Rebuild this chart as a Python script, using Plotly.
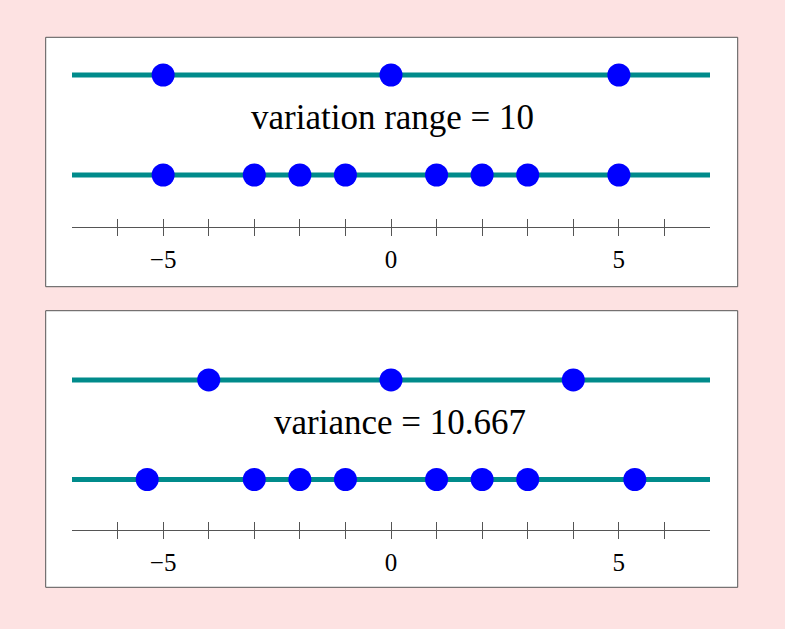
import plotly.graph_objects as go

# values of the two data sets in each panel
range_top = [-5, 0, 5]
range_bottom = [-5, -3, -2, -1, 1, 2, 3, 5]
var_top = [-4, 0, 4]
var_bottom = [-5.35, -3, -2, -1, 1, 2, 3, 5.35]

line_ends = [-7, 7]
tick_vals = list(range(-6, 7))
tick_text = ["", "\u22125", "", "", "", "", "0", "", "", "", "", "5", ""]
labels = ["variation range = 10", "variance = 10.667"]

W, H = 785, 629
BG = "#fde2e2"
TEAL = "#008b8b"
DOT = "#0000ff"
GREY = "#555555"
SERIF = "Liberation Serif, Times New Roman, serif"


def px_y(p):
    return 1 - p / H


fig = go.Figure()

panels = [
    # (top row, bottom row, y-axis domain in px, box in px, label x, y min)
    (range_top, range_bottom, (227.3, 50), (37.3, 286.7), 0.03, 0.477),
    (var_top, var_bottom, (530, 355), (310.7, 587.3), 0.2, 0.493),
]

for i, (top, bottom, dom, box, lab_x, ymin) in enumerate(panels):
    n = i + 1
    xa = "x" if n == 1 else "x2"
    ya = "y" if n == 1 else "y2"
    for yv, vals in ((2, top), (1, bottom)):
        fig.add_trace(go.Scatter(x=line_ends, y=[yv, yv], mode="lines",
                                 line=dict(color=TEAL, width=5),
                                 xaxis=xa, yaxis=ya, hoverinfo="skip"))
        fig.add_trace(go.Scatter(x=vals, y=[yv] * len(vals), mode="markers",
                                 marker=dict(color=DOT, size=23, line=dict(width=0)),
                                 xaxis=xa, yaxis=ya))
    # invisible trace so the overlaid "inside ticks" axis gets drawn
    fig.add_trace(go.Scatter(x=line_ends, y=[ymin, ymin], mode="lines",
                             line=dict(width=0), xaxis="x%d" % (n + 2), yaxis=ya,
                             hoverinfo="skip"))

    xdom = [72 / W, 710 / W]
    common = dict(range=[-7, 7], domain=xdom, showgrid=False, zeroline=False,
                  showline=True, linecolor=GREY, linewidth=1, tickcolor=GREY,
                  tickwidth=1, ticklen=8, tickmode="array", tickvals=tick_vals,
                  fixedrange=True)
    fig.layout["xaxis" + ("" if n == 1 else "2")] = dict(
        common, anchor=ya, ticks="outside", ticktext=tick_text,
        ticklabelstandoff=2)
    fig.layout["xaxis%d" % (n + 2)] = dict(
        common, anchor=ya, overlaying=xa, ticks="inside", showticklabels=False)
    fig.layout["yaxis" + ("" if n == 1 else "2")] = dict(
        domain=[px_y(dom[0]), px_y(dom[1])], range=[ymin, 2.25], visible=False,
        anchor=xa, fixedrange=True)

    fig.add_shape(type="rect", xref="paper", yref="paper",
                  x0=45.7 / W, x1=737.7 / W, y0=px_y(box[1]), y1=px_y(box[0]),
                  line=dict(color=GREY, width=1), fillcolor="white", layer="below")
    fig.add_annotation(x=lab_x, y=1.575, xref=xa, yref=ya, text=labels[i],
                       showarrow=False, yanchor="middle",
                       font=dict(family=SERIF, size=35, color="black"))

fig.update_layout(width=W, height=H, margin=dict(l=0, r=0, t=0, b=0),
                  font=dict(family=SERIF, size=25, color="black"),
                  paper_bgcolor=BG, plot_bgcolor="rgba(0,0,0,0)",
                  showlegend=False)
fig.update_xaxes(tickfont=dict(family=SERIF, size=25, color="black"))

# drop the default page margin so the figure sits at the window's corner
fig.write_html("out.html", config={"displayModeBar": False},
               post_script="document.body.style.margin='0';"
                           "document.body.style.background='%s';" % BG)
